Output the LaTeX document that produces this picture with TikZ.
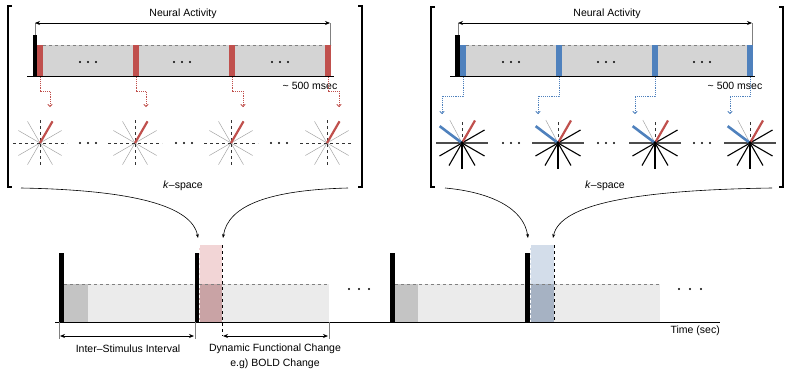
\documentclass[tikz,border=0pt]{standalone}
\usepackage{fontspec}
\setmainfont{Liberation Sans}
\usetikzlibrary{arrows.meta}
\definecolor{redA}{HTML}{C0504D}
\definecolor{blueA}{HTML}{4F81BD}
\definecolor{barG}{HTML}{D4D4D4}
\definecolor{lightG}{HTML}{EBEBEB}
\definecolor{midG}{HTML}{C4C4C4}
\definecolor{pinkT}{HTML}{F2D5D6}
\definecolor{pinkB}{HTML}{C9A3A5}
\definecolor{blueT}{HTML}{D3DDEA}
\definecolor{blueB}{HTML}{A6B2C3}
\tikzset{
  txt/.style={font=\fontsize{10.5}{12}\selectfont, inner sep=0pt},
  brk/.style={line width=1.1pt},
  narrow/.style={<->, >={Stealth[length=5pt,width=4pt]}, line width=0.8pt},
  tickl/.style={gray, line width=0.5pt},
  redarr/.style={redA, densely dotted, line width=0.9pt, -{To[length=3pt,width=5pt]}},
  bluearr/.style={blueA, densely dotted, line width=0.9pt, -{To[length=3pt,width=5pt]}},
  curv/.style={line width=0.6pt, -{Stealth[length=4pt,width=3pt]}},
  dashtop/.style={gray, dashed, line width=0.6pt},
  kstarA/.pic={
    \foreach \a in {30,60,120,150}
      \draw[gray!70, line width=0.5pt] (-\a:25) -- (-\a-180:25);
    \draw[black!80, dashed, line width=0.6pt] (-27,0) -- (27,0);
    \draw[black!80, dashed, line width=0.6pt] (0,-23) -- (0,23);
    \draw[redA, line width=2.2pt] (0,0) -- (-60:25);
  },
  kstarB/.pic={
    \draw[black!70, line width=2pt] (-26,0) -- (26,0);
    \foreach \a in {30,-30,-60,-90,-120,-150}
      \draw[black, line width=1.1pt] (0,0) -- (-\a:26);
    \draw[gray!70, line width=0.5pt] (0,0) -- (-118:26);
    \draw[black!80, dashed, line width=0.6pt] (0,0) -- (0,-23);
    \draw[redA, line width=2.2pt] (0,0) -- (-60:26);
    \draw[blueA, line width=2.6pt] (0,0) -- (-143:28);
    \fill[black] (0,0) circle (1.8);
  }
}
\begin{document}
\begin{tikzpicture}[x=1pt,y=-1pt]
\useasboundingbox (0,0) rectangle (790,372);

% ================= LEFT PANEL =================
\draw[brk] (12,6) -- (8,6) -- (8,187) -- (12,187);
\draw[brk] (358,6) -- (362,6) -- (362,187) -- (358,187);
\node[txt] (naL) at (183,14) {Neural Activity};
\fill[barG] (37,45) rectangle (331,76);
\draw[dashtop] (37,45) -- (331,45);
\fill[black] (33,35) rectangle (37,76);
\foreach \x in {37,133,229,325} \fill[redA] (\x,45) rectangle (\x+6,76);
\draw[line width=1pt] (27,76.5) -- (334,76.5);
\draw[tickl] (35,23) -- (35,35);
\draw[tickl] (330,23) -- (330,45);
\coordinate (aL1) at (35,23); \coordinate (aL2) at (330,23);
\draw[narrow] (aL1) -- (aL2);
\foreach \c in {88,182,280} \foreach \d in {-8,0,8} \fill (\c+\d,62) circle (1.2);
\node[txt] (msL) at (310,86) {\textasciitilde{} 500 msec};
\foreach \x/\t in {40/50,136/146,232/243,328/339}{
  \coordinate (rs\x) at (\x,77);
  \coordinate (re\x) at (\t,107);
  \draw[redarr] (rs\x) -- (\x,91) -- (\t,91) -- (re\x);
}
\foreach \x in {40,135,231,327} \pic at (\x,143) {kstarA};
\foreach \c in {88,184,279} \foreach \d in {-8,0,8} \fill (\c+\d,143) circle (1.2);
\node[txt] (ksL) at (183,186) {\textit{k}–space};

% ================= RIGHT PANEL =================
\draw[brk] (435,7) -- (431,7) -- (431,187) -- (435,187);
\draw[brk] (779,7) -- (783,7) -- (783,187) -- (779,187);
\node[txt] (naR) at (607,14) {Neural Activity};
\fill[barG] (460,45) rectangle (753,76);
\draw[dashtop] (460,45) -- (753,45);
\fill[black] (455,35) rectangle (460,76);
\foreach \x in {460,556,652,747} \fill[blueA] (\x,45) rectangle (\x+6,76);
\draw[line width=1pt] (450,76.5) -- (755,76.5);
\draw[tickl] (458,23) -- (458,35);
\draw[tickl] (752,23) -- (752,45);
\coordinate (aR1) at (458,23); \coordinate (aR2) at (752,23);
\draw[narrow] (aR1) -- (aR2);
\foreach \c in {511,606,702} \foreach \d in {-8,0,8} \fill (\c+\d,62) circle (1.2);
\node[txt] (msR) at (735,86) {\textasciitilde{} 500 msec};
\foreach \x/\t in {463/442,559/538,655/635,750/730}{
  \coordinate (bs\x) at (\x,77);
  \coordinate (be\x) at (\t,114);
  \draw[bluearr] (bs\x) -- (\x,96) -- (\t,96) -- (be\x);
}
\foreach \x in {462,558,655,750} \pic at (\x,143) {kstarB};
\foreach \c in {511,606,702} \foreach \d in {-8,0,8} \fill (\c+\d,143) circle (1.2);
\node[txt] (ksR) at (605,186) {\textit{k}–space};

% ================= CURVES =================
\coordinate (cL1) at (21,188); \coordinate (cL1e) at (198,238);
\coordinate (cL2) at (348,188); \coordinate (cL2e) at (223,238);
\coordinate (cR1) at (445,188); \coordinate (cR1e) at (528,238);
\coordinate (cR2) at (772,188); \coordinate (cR2e) at (553,238);
\draw[curv] (cL1) .. controls (130,190) and (192,205) .. (cL1e);
\draw[curv] (cL2) .. controls (270,190) and (228,205) .. (cL2e);
\draw[curv] (cR1) .. controls (490,192) and (524,208) .. (cR1e);
\draw[curv] (cR2) .. controls (640,190) and (560,203) .. (cR2e);

% ================= TIMELINE =================
\fill[lightG] (64,284) rectangle (195,322);
\fill[midG] (64,284) rectangle (88,322);
\fill[lightG] (222,284) rectangle (329,322);
\fill[lightG] (395,284) rectangle (525,322);
\fill[midG] (395,284) rectangle (418,322);
\fill[lightG] (554,284) rectangle (660,322);
\fill[pinkT] (199,245) rectangle (222,284);
\fill[pinkB] (199,284) rectangle (222,322);
\fill[blueT] (530,245) rectangle (554,284);
\fill[blueB] (530,284) rectangle (554,322);
\draw[dashtop] (64,284) -- (195,284);
\draw[dashtop] (222,284) -- (329,284);
\draw[dashtop] (395,284) -- (525,284);
\draw[dashtop] (554,284) -- (660,284);
\draw[dashtop] (199,284) -- (222,284);
\draw[dashtop] (530,284) -- (554,284);
\draw[white, densely dashed, line width=0.5pt] (199.5,245) -- (199.5,322);
\draw[white, densely dashed, line width=0.5pt] (530.5,245) -- (530.5,322);
\draw[black, dashed, line width=0.7pt] (222,245) -- (222,336);
\draw[black, dashed, line width=0.7pt] (554,245) -- (554,322);
\fill[black] (59,253) rectangle (64,322);
\fill[black] (195,253) rectangle (199,322);
\fill[black] (390,253) rectangle (395,322);
\fill[black] (525,253) rectangle (530,322);
\draw[line width=1pt] (55,322) -- (720,322);
\node[txt, anchor=north east] (time) at (720,326) {Time (sec)};
\foreach \d in {-10,0,10} \fill (359+\d,289) circle (1.2);
\foreach \d in {-11,0,11} \fill (690+\d,289) circle (1.2);

\draw[tickl] (59,322) -- (59,339);
\draw[tickl] (195,322) -- (195,339);
\draw[tickl] (329,322) -- (329,339);
\coordinate (isi1) at (60,336); \coordinate (isi2) at (194,336);
\coordinate (dfc1) at (223,336); \coordinate (dfc2) at (328,336);
\draw[narrow] (isi1) -- (isi2);
\draw[narrow] (dfc1) -- (dfc2);
\node[txt] (isi) at (128,349) {Inter–Stimulus Interval};
\node[txt] (dfc) at (275,349) {Dynamic Functional Change};
\node[txt] (bold) at (275,364) {e.g) BOLD Change};
\end{tikzpicture}
\end{document}
